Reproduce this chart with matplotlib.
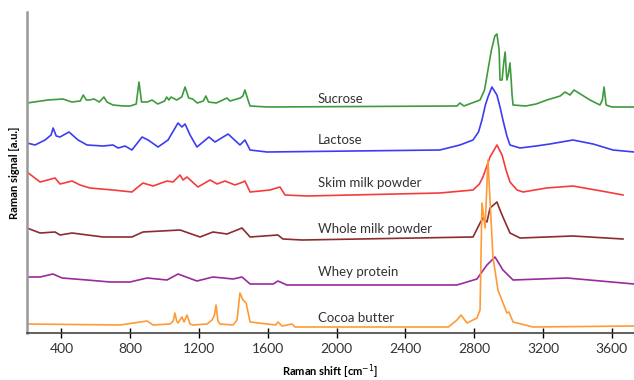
import matplotlib
matplotlib.use("Agg")
import matplotlib.pyplot as plt

plt.rcParams['font.family'] = ['Lato', 'DejaVu Sans']

# Raman spectra (wavenumber in cm-1, signal in a.u. incl. vertical offset)
sucrose_x = [200, 322, 409, 460, 510, 527, 545, 560, 590, 620, 647, 665, 700, 760, 800, 835, 851, 866,
             900, 927, 960, 1000, 1012, 1025, 1037, 1070, 1100, 1119, 1140, 1163, 1190, 1225, 1240, 1255,
             1300, 1363, 1380, 1440, 1455, 1467, 1485, 1497, 1600, 2700, 2717, 2740, 2834, 2860, 2880,
             2900, 2920, 2932, 2945, 2950, 2962, 2972, 2980, 2985, 2990, 2998, 3008, 3015, 3020, 3026,
             3100, 3160, 3223, 3300, 3328, 3357, 3380, 3473, 3531, 3545, 3555, 3567, 3600, 3729]
sucrose_y = [230, 233, 234, 231, 232, 238, 233, 233, 234, 231, 236, 231, 228, 227, 227, 229, 251, 231,
             231, 233, 229, 232, 236, 233, 236, 233, 236, 246, 235, 234, 230, 232, 237, 231,
             230, 235, 232, 235, 237, 243, 233, 227, 226, 227, 230, 227, 233, 243, 263,
             283, 297, 299, 283, 253, 253, 271, 281, 265, 253, 258, 270, 253, 238, 228,
             227, 229, 233, 237, 241, 238, 243, 233, 228, 233, 246, 228, 226, 226]

lactose_x = [200, 247, 305, 340, 352, 370, 392, 444, 497, 549, 642, 700, 730, 770, 810, 869, 904, 962,
             1020, 1078, 1101, 1119, 1148, 1188, 1258, 1293, 1369, 1438, 1467, 1497, 1595, 2600, 2717,
             2793, 2825, 2845, 2865, 2880, 2903, 2932, 2950, 2967, 2990, 3008, 3066, 3160, 3240, 3374,
             3491, 3607, 3729]
lactose_y = [190, 188, 193, 198, 205, 197, 196, 201, 193, 188, 187, 188, 185, 187, 183, 196, 193, 186,
             193, 210, 206, 209, 198, 186, 196, 191, 199, 188, 193, 183, 181, 183, 188,
             193, 201, 213, 228, 236, 246, 238, 226, 213, 197, 188, 185, 187, 189, 193,
             189, 183, 181]

skim_x = [200, 276, 363, 392, 462, 508, 566, 700, 810, 874, 933, 1014, 1049, 1090, 1107, 1130, 1194,
          1264, 1305, 1351, 1409, 1456, 1467, 1497, 1613, 1671, 1700, 1828, 2601, 2793, 2830, 2851,
          2892, 2932, 2962, 2985, 3008, 3049, 3084, 3220, 3374, 3572, 3665]
skim_y = [161, 151, 155, 149, 152, 148, 145, 143, 141, 150, 147, 152, 151, 158, 153, 156, 146,
          153, 149, 152, 148, 151, 152, 141, 143, 146, 138, 137, 140, 143, 149, 156,
          176, 188, 178, 163, 151, 143, 141, 145, 147, 141, 138]

whole_x = [200, 276, 363, 392, 462, 642, 810, 874, 1090, 1206, 1281, 1363, 1450, 1497, 1659, 1688,
           1800, 2793, 2834, 2851, 2874, 2892, 2932, 2950, 2967, 3008, 3066, 3374, 3665]
whole_y = [105, 100, 101, 98, 100, 96, 96, 101, 103, 96, 101, 99, 105, 96, 98, 94,
           93, 96, 110, 115, 111, 125, 131, 123, 116, 100, 95, 97, 94]

whey_x = [200, 276, 351, 404, 549, 683, 799, 898, 1014, 1078, 1188, 1281, 1398, 1450, 1497, 1631,
          1659, 1711, 2700, 2816, 2874, 2921, 2967, 3026, 3340, 3729]
whey_y = [56, 56, 59, 55, 53, 51, 51, 55, 53, 59, 52, 56, 54, 56, 49, 49,
          52, 48, 48, 54, 68, 76, 63, 53, 55, 49]

cocoa_x = [200, 741, 898, 933, 1031, 1050, 1060, 1070, 1078, 1101, 1113, 1130, 1148, 1165, 1247, 1276,
           1290, 1299, 1310, 1322, 1398, 1421, 1438, 1456, 1474, 1497, 1645, 1659, 1683, 1741, 1758,
           2650, 2700, 2723, 2758, 2816, 2834, 2845, 2863, 2880, 2909, 2938, 2990, 3002, 3026, 3142, 3729]
cocoa_y = [9, 8, 12, 8, 9, 12, 20, 12, 10, 16, 11, 18, 9, 8, 9, 13,
           18, 28, 12, 9, 8, 13, 40, 33, 30, 11, 8, 11, 7, 9, 6,
           6, 13, 18, 10, 15, 23, 130, 105, 173, 76, 43, 20, 21, 11, 6, 7]

series = [
    ("Sucrose", sucrose_x, sucrose_y, "#3f9a3f", 234),
    ("Lactose", lactose_x, lactose_y, "#3c3cf5", 193),
    ("Skim milk powder", skim_x, skim_y, "#f53c3c", 150),
    ("Whole milk powder", whole_x, whole_y, "#8c2c2c", 104),
    ("Whey protein", whey_x, whey_y, "#9a2a9e", 61),
    ("Cocoa butter", cocoa_x, cocoa_y, "#ff9a38", 15),
]

fig = plt.figure(figsize=(6.34, 3.80), dpi=100)
ax = fig.add_axes([27 / 634, 1 - 333 / 380, 1 - 27 / 634, 321 / 380])

for name, x, y, color, label_y in series:
    ax.plot(x, y, color=color, lw=1.2)
    ax.text(1890, label_y, name, fontsize=9.5, color="#333333", va="center", ha="left")

ax.set_xlim(200, 3729)
ax.set_ylim(0, 321)
ax.set_xticks([400, 800, 1200, 1600, 2000, 2400, 2800, 3200, 3600])
ax.set_yticks([])
ax.tick_params(axis="x", direction="inout", length=7, width=1, labelsize=10, labelcolor="#333333", pad=4)
for side in ["top", "right"]:
    ax.spines[side].set_visible(False)
ax.spines["left"].set_color("#999999")
ax.spines["left"].set_linewidth(1.8)
ax.spines["bottom"].set_color("#444444")
ax.spines["bottom"].set_linewidth(1.2)

ax.set_xlabel("Raman shift [cm$^{-1}$]", fontsize=8, fontweight="bold", labelpad=5)
ax.set_ylabel("Raman signal [a.u.]", fontsize=8, fontweight="bold", labelpad=5)

fig.savefig("out.png", dpi=100)
